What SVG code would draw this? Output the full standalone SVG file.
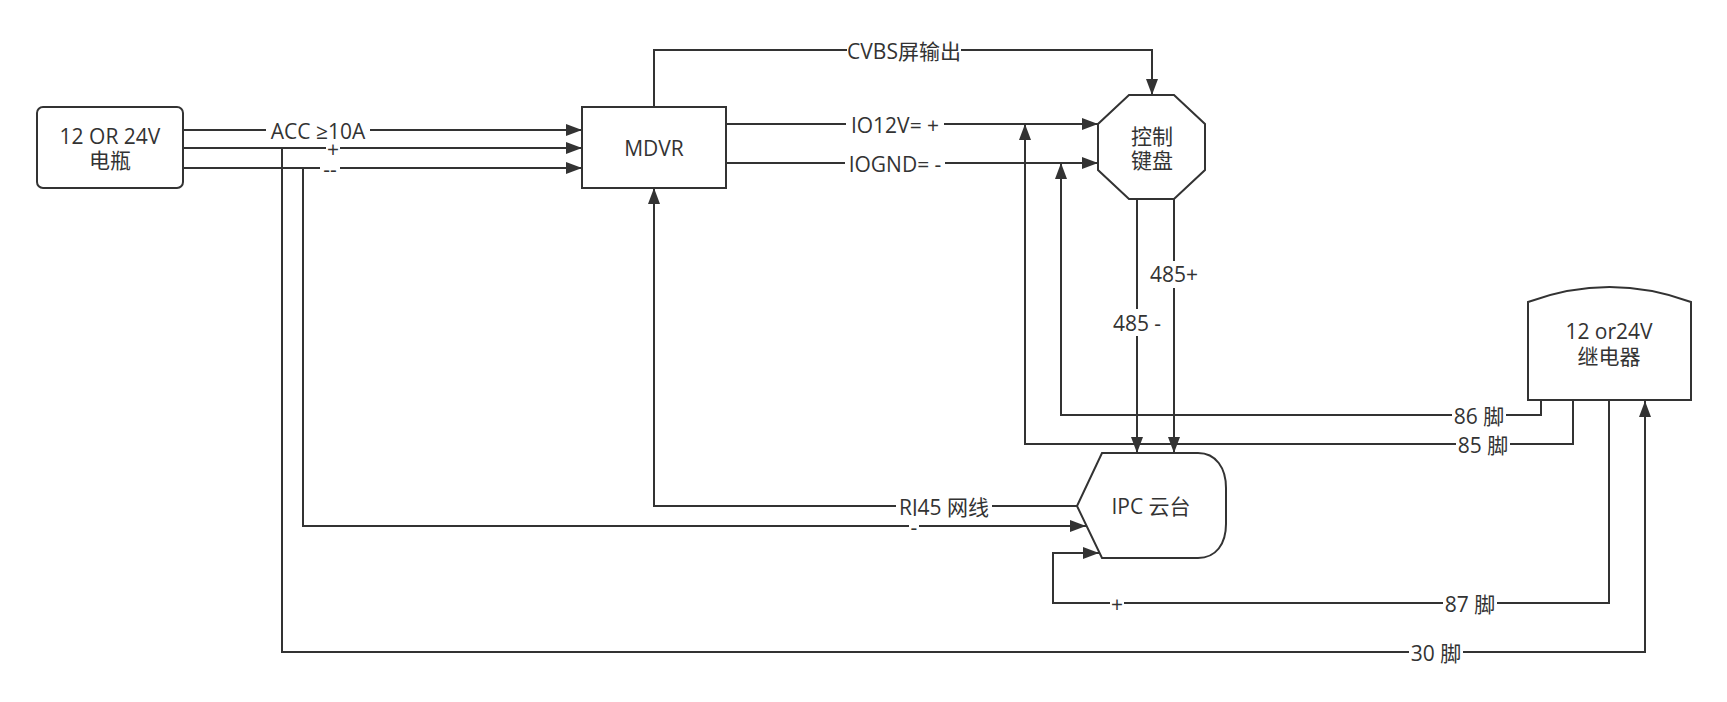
<svg xmlns="http://www.w3.org/2000/svg" width="1727" height="702" viewBox="0 0 1727 702">
<style>
.ln{fill:none;stroke:#333;stroke-width:2}
.arr{marker-end:url(#ah)}
.nd{fill:#fff;stroke:#333;stroke-width:2}
.t{font-family:"Open Sans","Noto Sans CJK SC",sans-serif;font-size:21px;fill:#333;text-anchor:middle}
.bg{fill:#fff;stroke:none}
</style>
<defs>
<marker id="ah" markerWidth="16" markerHeight="12" refX="16" refY="6" orient="auto" markerUnits="userSpaceOnUse">
<path d="M0,0 L16,6 L0,12 Z" fill="#333"/>
</marker>
</defs>
<rect width="1727" height="702" fill="#fff"/>
<g id="connectors">
<path class="ln arr" d="M183,130 H582"/>
<path class="ln arr" d="M183,148 H582"/>
<path class="ln arr" d="M183,168 H582"/>
<path class="ln arr" d="M654,107 V50 H1152 V95"/>
<path class="ln arr" d="M726,124 H1098"/>
<path class="ln arr" d="M726,163 H1098"/>
<path class="ln arr" d="M1077,506 H654 V188"/>
<path class="ln arr" d="M303,168 V526 H1086"/>
<path class="ln arr" d="M282,148 V652 H1645 V401"/>
<path class="ln arr" d="M1137,199 V453"/>
<path class="ln arr" d="M1174,199 V453"/>
<path class="ln arr" d="M1541,400 V415 H1061 V163"/>
<path class="ln arr" d="M1573,400 V444 H1025 V124"/>
<path class="ln arr" d="M1609,400 V603 H1053 V553 H1099"/>
<g id="labels">
<rect class="bg" x="266" y="120" width="104" height="19"/><text class="t" x="318" y="139">ACC ≥10A</text>
<rect class="bg" x="326" y="139" width="14" height="19"/><text class="t" x="333" y="157">+</text>
<rect class="bg" x="320" y="158" width="20" height="20"/><text class="t" x="330" y="177">--</text>
<rect class="bg" x="847" y="40" width="114" height="21"/><text class="t" x="904" y="59">CVBS屏输出</text>
<rect class="bg" x="846" y="114" width="98" height="21"/><text class="t" x="895" y="133">IO12V= +</text>
<rect class="bg" x="845" y="153" width="100" height="21"/><text class="t" x="895" y="172">IOGND= -</text>
<rect class="bg" x="1149" y="261" width="50" height="27"/><text class="t" x="1174" y="282">485+</text>
<rect class="bg" x="1110" y="309" width="54" height="27"/><text class="t" x="1137" y="331">485 -</text>
<rect class="bg" x="1452" y="405" width="54" height="21"/><text class="t" x="1479" y="424">86 脚</text>
<rect class="bg" x="1456" y="434" width="54" height="21"/><text class="t" x="1483" y="453">85 脚</text>
<rect class="bg" x="896" y="496" width="96" height="21"/><text class="t" x="944" y="515">RJ45 网线</text>
<rect class="bg" x="909" y="516" width="10" height="21"/><text class="t" x="914" y="535">-</text>
<rect class="bg" x="1110" y="593" width="14" height="21"/><text class="t" x="1117" y="612">+</text>
<rect class="bg" x="1443" y="593" width="54" height="21"/><text class="t" x="1470" y="612">87 脚</text>
<rect class="bg" x="1409" y="642" width="54" height="21"/><text class="t" x="1436" y="661">30 脚</text>
</g>
</g>
<g id="battery">
<rect class="nd" x="37" y="107" width="146" height="81" rx="6"/>
<text class="t" x="110" y="144">12 OR 24V</text>
<text class="t" x="110" y="168">电瓶</text>
</g>
<g id="mdvr">
<rect class="nd" x="582" y="107" width="144" height="81"/>
<text class="t" x="654" y="156">MDVR</text>
</g>
<g id="keyboard">
<polygon class="nd" points="1129,95 1174,95 1205,124 1205,170 1174,199 1129,199 1098,170 1098,124"/>
<text class="t" x="1152" y="144">控制</text>
<text class="t" x="1152" y="168">键盘</text>
</g>
<g id="relay">
<path class="nd" d="M1528,400 V302 Q1609.5,272 1691,302 V400 Z"/>
<text class="t" x="1609" y="339">12 or24V</text>
<text class="t" x="1609" y="364">继电器</text>
</g>
<g id="ipc">
<path class="nd" d="M1102,453 H1198 C1216,453 1226,468 1226,488 V524 C1226,544 1216,558 1198,558 H1102 L1077,506 Z"/>
<text class="t" x="1151" y="514">IPC 云台</text>
</g>
</svg>
